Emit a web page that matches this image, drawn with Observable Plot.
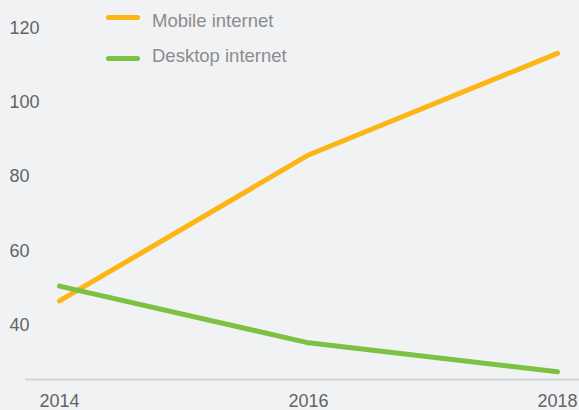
<!DOCTYPE html>
<html>
<head>
<meta charset="utf-8">
<script src="https://cdn.jsdelivr.net/npm/d3@7"></script>
<script src="https://cdn.jsdelivr.net/npm/@observablehq/plot@0.6"></script>
<style>
  html, body { margin: 0; padding: 0; background: #f1f2f4; }
  #wrap { position: relative; width: 579px; height: 410px; font-family: "Liberation Sans", Arial, Helvetica, sans-serif; }
  #wrap svg { display: block; }
  .lg-swatch { position: absolute; width: 34px; height: 5px; border-radius: 3px; }
  .lg-text { position: absolute; font-size: 18.5px; color: #8c8c8c; line-height: 1; white-space: nowrap; }
</style>
</head>
<body>
<div id="wrap"></div>
<script>
const years = [2014, 2016, 2018];
const seriesNames = ["Mobile internet", "Desktop internet"];
const seriesColors = ["#fdb515", "#7cc142"];
const mobileValues = [46.2, 85.6, 113.0];
const desktopValues = [50.2, 34.9, 27.1];
const yTicks = [40, 60, 80, 100, 120];
const xTicks = [2014, 2016, 2018];

const seriesValues = [mobileValues, desktopValues];
const data = seriesNames.flatMap((name, i) =>
  years.map((year, j) => ({ series: name, year, value: seriesValues[i][j] }))
);

const chart = Plot.plot({
  width: 579,
  height: 410,
  marginTop: 27,
  marginBottom: 31,
  marginLeft: 59,
  marginRight: 22,
  style: { background: "#f1f2f4", fontFamily: "'Liberation Sans', Arial, Helvetica, sans-serif" },
  x: { domain: [2014, 2018], label: null },
  y: { domain: [25, 120], label: null, axis: null },
  color: { domain: seriesNames, range: seriesColors },
  marks: [
    Plot.ruleY([25], { stroke: "#d3d4d6", strokeWidth: 2, insetLeft: -34, insetRight: -22 }),
    Plot.axisX({ ticks: xTicks, tickFormat: "d", tickSize: 0, tickPadding: 15, fontSize: 18, fill: "#636466", label: null }),
    Plot.text(yTicks, { y: d => d, text: d => String(d), frameAnchor: "left", textAnchor: "start", dx: -50, dy: 1, fontSize: 18, fill: "#636466" }),
    Plot.line(data, { x: "year", y: "value", z: "series", stroke: "series", strokeWidth: 5, strokeLinecap: "round", strokeLinejoin: "round" })
  ]
});

const wrap = document.getElementById("wrap");
wrap.appendChild(chart);

// legend overlay
seriesNames.forEach((name, i) => {
  const sw = document.createElement("div");
  sw.className = "lg-swatch";
  sw.style.background = seriesColors[i];
  sw.style.left = "106px";
  sw.style.top = (14.5 + i * 41) + "px";
  wrap.appendChild(sw);
  const tx = document.createElement("div");
  tx.className = "lg-text";
  tx.textContent = name;
  tx.style.left = "152px";
  tx.style.top = (12 + i * 35) + "px";
  wrap.appendChild(tx);
});
</script>
</body>
</html>
